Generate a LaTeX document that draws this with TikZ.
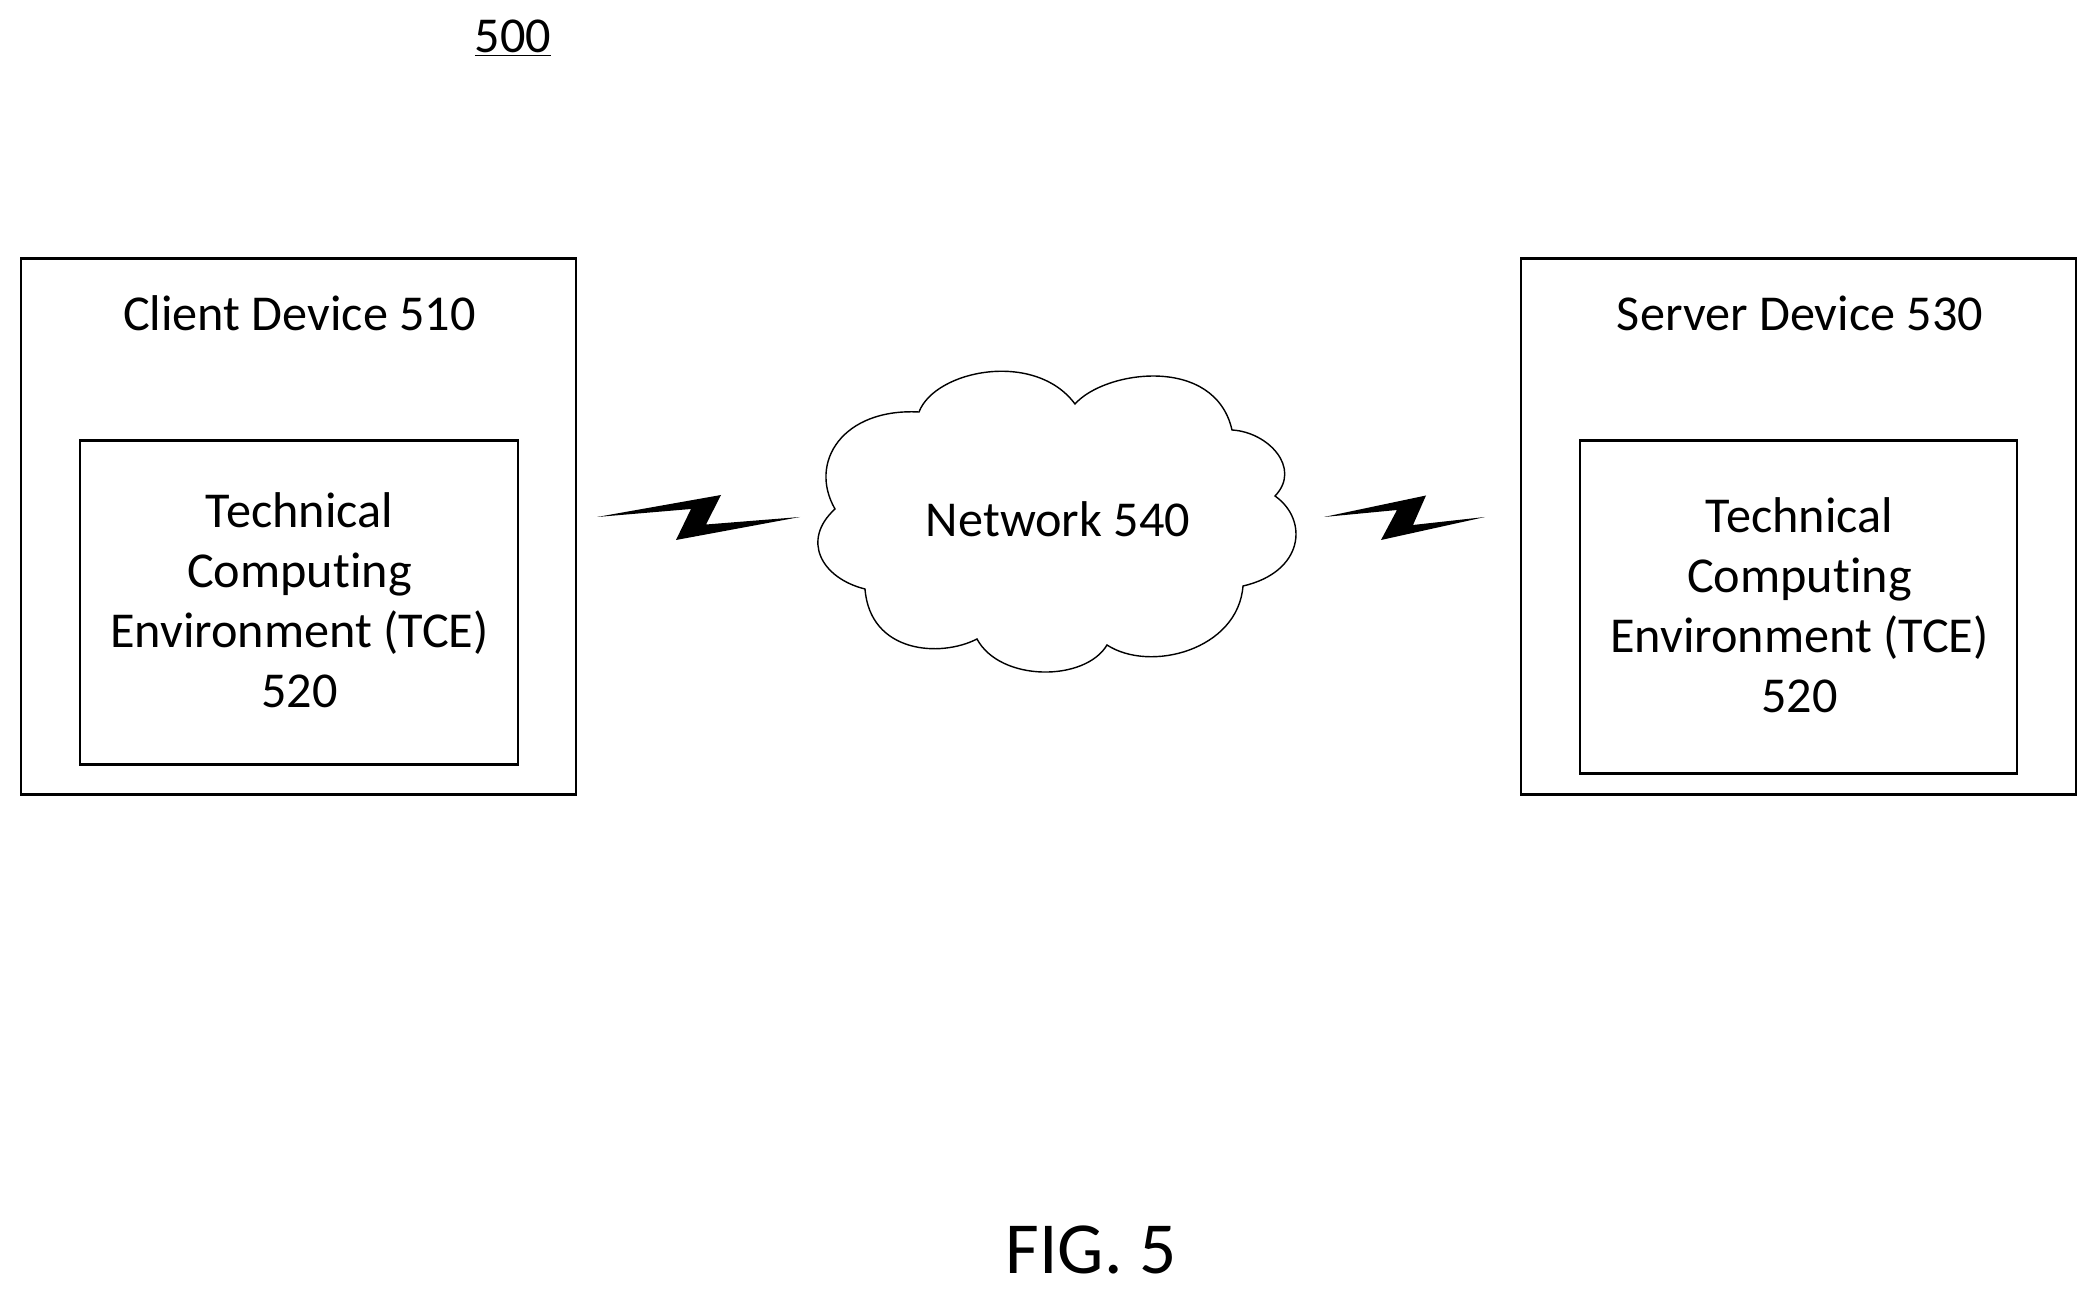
\documentclass[tikz,border=0pt]{standalone}
\usepackage{fontspec}
\setmainfont{Carlito}[Ligatures=CommonOff]
\usepackage{tikz}
\usepackage{xcolor}

\tikzset{
  devbox/.style={draw, line width=1.6pt, inner sep=0pt},
  tcebox/.style={draw, line width=1.2pt, inner sep=0pt},
  boxtext/.style={inner sep=0pt, align=center},
  cloudline/.style={line width=.8pt},
  bolt/.style={fill=black, draw=none}
}

\begin{document}
\begin{tikzpicture}[x=.02cm,y=-.02cm,font=\fontsize{28.6}{34.2}\selectfont]
  \useasboundingbox (0,0) rectangle (2097,1293);

  \node (fig) [boxtext] at (513,38.5) {\underline{500}};

  \node (client) [devbox,minimum width=11.1cm,minimum height=10.72cm] at (298.5,526.5) {};
  \node (clientname) [boxtext] at (299.5,313) {Client Device 510};
  \node (clienttce) [tcebox,minimum width=8.77cm,minimum height=6.48cm] at (299,602.5) {};
  \node (clienttext) [boxtext] at (299.5,600.5) {Technical\\Computing\\Environment (TCE)\\520};

  \node (server) [devbox,minimum width=11.1cm,minimum height=10.72cm] at (1798.5,526.5) {};
  \node (servername) [boxtext] at (1800,313) {Server Device 530};
  \node (servertce) [tcebox,minimum width=8.74cm,minimum height=6.66cm] at (1798.5,607) {};
  \node (servertext) [boxtext] at (1799.5,605) {Technical\\Computing\\Environment (TCE)\\520};

  \draw[cloudline] (835,509)
    .. controls (808,462) and (843,408) .. (919,412)
    .. controls (935,370) and (1035,350) .. (1075,404)
    .. controls (1105,370) and (1215,355) .. (1232,430)
    .. controls (1268,432) and (1302,468) .. (1275,496)
    .. controls (1309,520) and (1304,572) .. (1243,586)
    .. controls (1238,650) and (1150,673) .. (1107,645)
    .. controls (1085,682) and (1000,682) .. (977,639)
    .. controls (940,658) and (870,653) .. (865,589)
    .. controls (821,578) and (801,540) .. cycle;
  \node (network) [boxtext] at (1058,519) {Network 540};

  \fill[bolt] (597,517) -- (721,495) -- (706,524.5) -- (800,517) -- (676,540) -- (691,509) -- cycle;
  \fill[bolt] (1324,517) -- (1426,495.5) -- (1413,525) -- (1485,517) -- (1381,540) -- (1397,510) -- cycle;

  \node (figure) [boxtext,font=\fontsize{41.8}{50}\selectfont] at (1091,1250) {FIG. 5};
\end{tikzpicture}
\end{document}
